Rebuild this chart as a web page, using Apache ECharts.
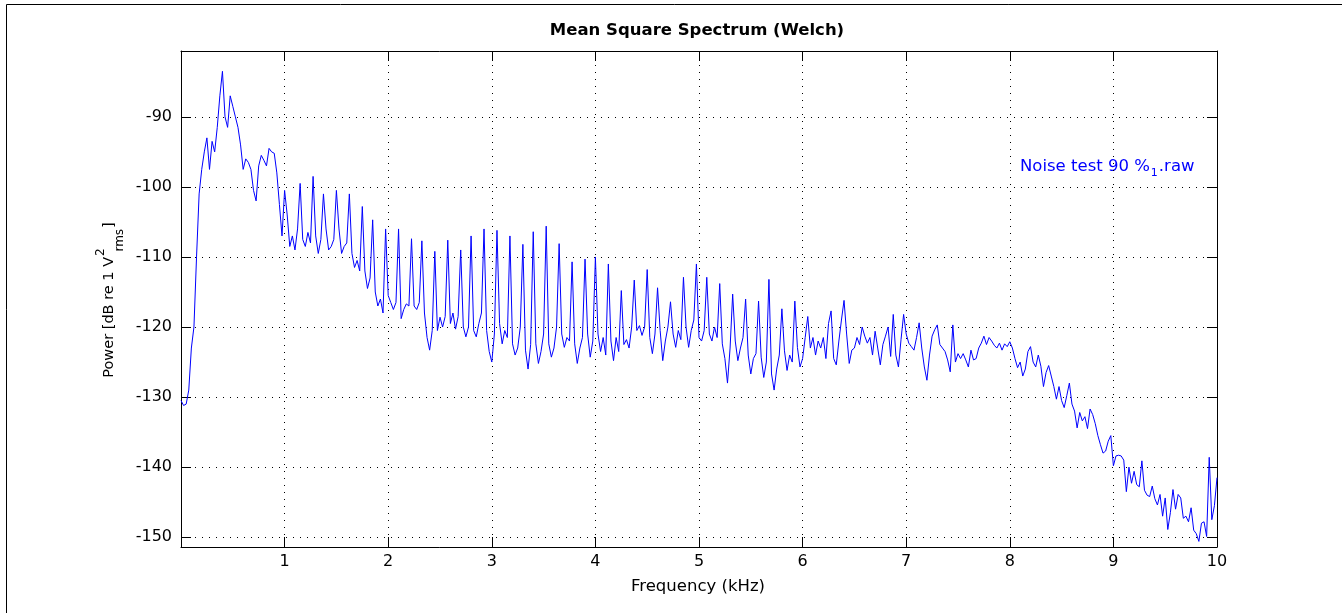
<!DOCTYPE html>
<html>
<head>
<meta charset="utf-8">
<title>Mean Square Spectrum (Welch)</title>
<script src="https://cdn.jsdelivr.net/npm/echarts@6/dist/echarts.min.js"></script>
<style>
  html, body { margin: 0; padding: 0; background: #fff; }
  #chart { width: 1342px; height: 613px; }
</style>
</head>
<body>
<div id="chart"></div>
<script>
// Welch bins, 25 Hz apart (kHz)
let binStep = 0.025;

// power in dB, one array per kHz (40 bins each, last one closes at 10 kHz)
let power0k = [
  -130.5, -131.2, -131, -129, -123, -120, -110, -101, -97.5, -95,
  -93, -97.5, -93.5, -95, -91.5, -87, -83.5, -90, -91.5, -87,
  -88.5, -90, -91.5, -94, -97.5, -96, -96.5, -97.5, -100.5, -102,
  -97, -95.5, -96.2, -97, -94.5, -95, -95.2, -98, -102.5, -107
];
let power1k = [
  -100.5, -104, -108.5, -107, -109, -106, -99.5, -107.5, -108.5, -106.5,
  -108, -98.5, -107, -109.5, -107.5, -101, -106, -109, -108.5, -107.5,
  -100.5, -106, -109.5, -108.5, -108, -101, -109.5, -111.5, -110.5, -112,
  -102.8, -112, -114.5, -113, -104.7, -115, -117, -116, -118, -106
];
let power2k = [
  -115.5, -116.5, -117.5, -116.5, -106, -118.8, -117.5, -116.7, -117, -107.4,
  -117, -117.5, -116.5, -107.7, -118, -121.5, -123.3, -120.5, -109.2, -120.5,
  -118.6, -120, -118.5, -107.6, -119.5, -118, -120.3, -118.5, -109, -120,
  -121.4, -120, -107, -120.5, -121.4, -119.5, -118, -106, -120.5, -123.5
];
let power3k = [
  -125, -121, -106.2, -119.5, -122.4, -120.5, -121.5, -107, -122.4, -124,
  -123, -120, -108.2, -123.3, -126, -122.5, -106.4, -122.4, -125.2, -123.5,
  -121, -105.6, -122.4, -124.3, -123, -120, -108.1, -121, -122.9, -121.5,
  -122, -110.7, -122.4, -125.2, -123, -121.5, -110.3, -121, -124.3, -122
];
let power4k = [
  -110, -121, -123.5, -121.5, -124, -111, -122, -124.8, -121.5, -123.5,
  -114.8, -122.5, -121.8, -123, -120, -113.3, -120.5, -119.8, -121.2, -120,
  -111.8, -121.5, -123.8, -121, -114.4, -120.5, -124.8, -122, -120, -116.4,
  -121, -122.9, -120.5, -121.8, -112.9, -120, -122.9, -120.5, -119, -111
];
let power5k = [
  -121.5, -122, -120.5, -112.9, -121, -122, -120, -121.5, -113.8, -122.4,
  -124.5, -128, -123, -115.3, -122, -124.8, -123, -121.5, -116, -124,
  -126.7, -124.5, -123.8, -116.3, -124.3, -127.2, -125, -113.2, -126.7, -129,
  -126, -124, -117.4, -123.4, -126.2, -124, -125, -116.3, -122.9, -125.7
];
let power6k = [
  -124.5, -121.5, -118.5, -123, -121.5, -124, -122, -123, -121.5, -124.5,
  -119.5, -117.7, -124.5, -125.4, -122, -119, -116.2, -121, -125.2, -123.3,
  -123, -121.5, -122.5, -120, -121.3, -122.3, -121.5, -124, -120.6, -123,
  -125.4, -122.5, -121.3, -120, -124.2, -118.2, -124, -125.7, -121.8, -118.2
];
let power7k = [
  -121, -122.3, -122.8, -123.3, -121.5, -119.4, -123, -125.7, -127.6, -124,
  -121.3, -120.4, -119.7, -122.5, -123, -123.5, -124.7, -126.4, -119.7, -125,
  -123.8, -124.5, -123.8, -124.7, -125.7, -123.3, -124.7, -124.5, -123, -122.3,
  -121.3, -122.5, -121.5, -122, -122.6, -123, -122.3, -123.3, -122.4, -122.8
];
let power8k = [
  -122.1, -123, -124.5, -125.8, -125, -127, -126, -123.5, -122.8, -125,
  -125.7, -124, -125.6, -128.5, -126.5, -125.5, -127, -128.5, -130.3, -128.5,
  -130.5, -131.5, -129.8, -128, -131, -132, -134.4, -132.2, -133.4, -132.8,
  -134.5, -131.7, -132.5, -133.8, -135.5, -136.8, -138, -137.7, -136.3, -135.5
];
let power9k = [
  -139.8, -138.4, -138.3, -138.4, -139, -143.5, -140, -142.3, -140.6, -142.5,
  -142.8, -139.1, -143.3, -144, -144.2, -142.7, -144.5, -145.4, -143.9, -147,
  -144.4, -148.9, -146.5, -143.2, -146, -143.9, -144.4, -147.3, -147, -147.8,
  -145.8, -149, -149.5, -150.6, -148, -147.8, -149.9, -138.6, -147.5, -145.5,
  -141.5
];

let xTicks = [1, 2, 3, 4, 5, 6, 7, 8, 9, 10];
let seriesLabel = "Noise test 90 %";
let seriesLabelSub = "1";
let seriesLabelTail = ".raw";

// axis limits as in the figure
let fMin = 0, fMax = 10;
let dbMin = -151.4, dbMax = -80.6;

let power = [].concat(power0k, power1k, power2k, power3k, power4k,
  power5k, power6k, power7k, power8k, power9k);
let points = power.map((v, i) => [+(i * binStep).toFixed(3), v]);

// text widths for the hand placed labels
let ctx = document.createElement("canvas").getContext("2d");
function textW(txt, font) {
  ctx.font = font;
  return ctx.measureText(txt).width;
}

let fam = '"DejaVu Sans"';
let bigFont = "14.5px " + fam;
let supFont = "12px " + fam;
let yMain = "Power [dB re 1 V";
let wMain = textW(yMain, bigFont);
let wSup = textW("2", supFont);
let wRms = textW("rms", supFont);
let wBr = textW("]", bigFont);
let rmsOff = wMain + wSup * 0.7;
let yTotal = rmsOff + wRms + 1 + wBr;
let y0 = -yTotal / 2;

let legFont = "16.5px " + fam;
let legSmall = "11px " + fam;
let wLeg = textW(seriesLabel, legFont);
let wLegSub = textW(seriesLabelSub, legSmall);
let legX = 1020, legY = 166.5;

let myChart = echarts.init(document.getElementById("chart"));
let axisBlack = { show: true, onZero: false, lineStyle: { color: "#000", width: 1 } };
let dotted = { show: true, lineStyle: { color: "#000", width: 1, type: [1, 6] } };
let tickIn = { show: true, inside: true, length: 10, lineStyle: { color: "#000" } };

let option = {
  animation: false,
  backgroundColor: "#fff",
  grid: { left: 181, right: 125, top: 51, bottom: 66, containLabel: false },
  xAxis: [
    {
      type: "value",
      min: fMin,
      max: fMax,
      interval: 1,
      position: "bottom",
      axisLine: axisBlack,
      axisTick: tickIn,
      axisLabel: {
        show: true,
        showMinLabel: false,
        margin: 7,
        color: "#000",
        fontFamily: "DejaVu Sans",
        fontSize: 16,
        formatter: v => (xTicks.indexOf(v) >= 0 ? String(v) : "")
      },
      splitLine: dotted
    },
    {
      type: "value",
      min: fMin,
      max: fMax,
      interval: 1,
      position: "top",
      axisLine: axisBlack,
      axisTick: tickIn,
      axisLabel: { show: false },
      splitLine: { show: false }
    }
  ],
  yAxis: [
    {
      type: "value",
      min: dbMin,
      max: dbMax,
      splitNumber: 7,
      position: "left",
      axisLine: axisBlack,
      axisTick: tickIn,
      axisLabel: {
        show: true,
        showMinLabel: false,
        showMaxLabel: false,
        margin: 9,
        color: "#000",
        fontFamily: "DejaVu Sans",
        fontSize: 16
      },
      splitLine: dotted
    },
    {
      type: "value",
      min: dbMin,
      max: dbMax,
      splitNumber: 7,
      position: "right",
      axisLine: axisBlack,
      axisTick: tickIn,
      axisLabel: { show: false },
      splitLine: { show: false }
    }
  ],
  series: [
    {
      name: seriesLabel + seriesLabelSub + seriesLabelTail,
      type: "line",
      xAxisIndex: 0,
      yAxisIndex: 0,
      showSymbol: false,
      symbol: "none",
      silent: true,
      lineStyle: { color: "#0000ff", width: 1 },
      data: points,
      z: 3
    }
  ],
  graphic: [
    // figure frame, only its top and left edges fall inside the picture
    {
      type: "rect",
      silent: true,
      z: -1,
      shape: { x: 6.5, y: 4.5, width: 1400, height: 700 },
      style: { fill: "none", stroke: "#000", lineWidth: 1 }
    },
    {
      type: "text",
      x: 697,
      y: 31,
      style: {
        text: "Mean Square Spectrum (Welch)",
        font: "bold 16.5px " + fam,
        fill: "#000",
        textAlign: "center",
        textVerticalAlign: "middle"
      }
    },
    {
      type: "text",
      x: 698,
      y: 586.5,
      style: {
        text: "Frequency (kHz)",
        font: "16.5px " + fam,
        fill: "#000",
        textAlign: "center",
        textVerticalAlign: "middle"
      }
    },
    // y axis title, V with 2 above and rms below
    {
      type: "group",
      x: 109,
      y: 300,
      rotation: Math.PI / 2,
      children: [
        {
          type: "text", x: y0, y: 0,
          style: { text: yMain, font: bigFont, fill: "#000", textAlign: "left", textVerticalAlign: "middle" }
        },
        {
          type: "text", x: y0 + wMain + 1, y: -8,
          style: { text: "2", font: supFont, fill: "#000", textAlign: "left", textVerticalAlign: "middle" }
        },
        {
          type: "text", x: y0 + rmsOff, y: 11,
          style: { text: "rms", font: supFont, fill: "#000", textAlign: "left", textVerticalAlign: "middle" }
        },
        {
          type: "text", x: y0 + rmsOff + wRms + 1, y: 0,
          style: { text: "]", font: bigFont, fill: "#000", textAlign: "left", textVerticalAlign: "middle" }
        }
      ]
    },
    // series tag
    {
      type: "text", x: legX, y: legY,
      style: { text: seriesLabel, font: legFont, fill: "#0000ff", textAlign: "left", textVerticalAlign: "middle" }
    },
    {
      type: "text", x: legX + wLeg + 1, y: legY + 7,
      style: { text: seriesLabelSub, font: legSmall, fill: "#0000ff", textAlign: "left", textVerticalAlign: "middle" }
    },
    {
      type: "text", x: legX + wLeg + wLegSub + 2, y: legY,
      style: { text: seriesLabelTail, font: legFont, fill: "#0000ff", textAlign: "left", textVerticalAlign: "middle" }
    }
  ]
};
myChart.setOption(option);
</script>
</body>
</html>
